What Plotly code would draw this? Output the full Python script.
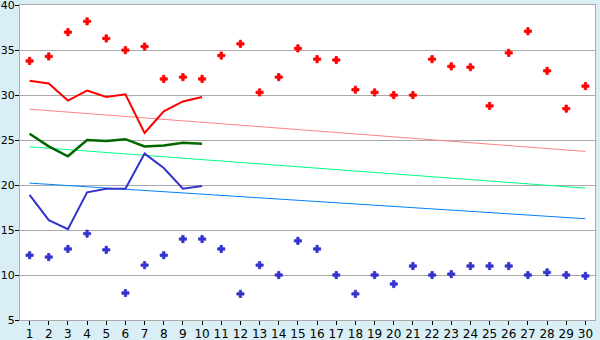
import plotly.graph_objects as go

days = list(range(1, 31))
red_dots = [33.8, 34.3, 37.0, 38.2, 36.3, 35.0, 35.4, 31.8, 32.0, 31.8,
            34.4, 35.7, 30.3, 32.0, 35.2, 34.0, 33.9, 30.6, 30.3, 30.0,
            30.0, 34.0, 33.2, 33.1, 28.8, 34.7, 37.1, 32.7, 28.5, 31.0]
blue_dots = [12.2, 12.0, 12.9, 14.6, 12.8, 8.0, 11.1, 12.2, 14.0, 14.0,
             12.9, 7.9, 11.1, 10.0, 13.8, 12.9, 10.0, 7.9, 10.0, 9.0,
             11.0, 10.0, 10.1, 11.0, 11.0, 11.0, 10.0, 10.3, 10.0, 9.9]
line_days = list(range(1, 11))
red_line = [31.6, 31.3, 29.4, 30.5, 29.8, 30.1, 25.8, 28.2, 29.3, 29.8]
green_line = [25.7, 24.3, 23.2, 25.0, 24.9, 25.1, 24.3, 24.4, 24.7, 24.6]
blue_line = [18.9, 16.1, 15.1, 19.2, 19.6, 19.6, 23.5, 21.9, 19.6, 19.9]
trend_x = [1, 30]
red_trend = [28.44, 23.74]
green_trend = [24.26, 19.66]
blue_trend = [20.22, 16.26]

fig = go.Figure()
fig.add_trace(go.Scatter(x=trend_x, y=red_trend, mode="lines", line=dict(color="#FF8080", width=1)))
fig.add_trace(go.Scatter(x=trend_x, y=green_trend, mode="lines", line=dict(color="#00FF80", width=1)))
fig.add_trace(go.Scatter(x=trend_x, y=blue_trend, mode="lines", line=dict(color="#0080FF", width=1)))
fig.add_trace(go.Scatter(x=days, y=red_dots, mode="markers",
                         marker=dict(symbol="cross", size=6, color="#FF0000",
                                     line=dict(width=0.8, color="#FF0000"))))
fig.add_trace(go.Scatter(x=days, y=blue_dots, mode="markers",
                         marker=dict(symbol="cross", size=6, color="#3333CC",
                                     line=dict(width=0.8, color="#3333CC"))))
fig.add_trace(go.Scatter(x=line_days, y=red_line, mode="lines", line=dict(color="#FF0000", width=2)))
fig.add_trace(go.Scatter(x=line_days, y=green_line, mode="lines", line=dict(color="#006600", width=2.5)))
fig.add_trace(go.Scatter(x=line_days, y=blue_line, mode="lines", line=dict(color="#3333CC", width=2)))

fig.update_layout(
    width=600, height=340,
    margin=dict(l=20, r=5, t=5, b=20),
    paper_bgcolor="#D9EFF5", plot_bgcolor="#FFFFFF",
    showlegend=False,
    font=dict(family="DejaVu Sans", size=12, color="#000000"),
)
fig.update_xaxes(range=[0.5, 30.5], tickmode="array", tickvals=days, automargin=False,
                 showgrid=False, showline=True, linecolor="#AAAAAA", linewidth=1, mirror=True,
                 ticks="outside", ticklen=4, tickcolor="#000000", zeroline=False,
                 ticklabelstandoff=-1, ticklabeloverflow="allow", tickfont=dict(size=12))
fig.update_yaxes(range=[5, 40.02], tickmode="array", tickvals=[5, 10, 15, 20, 25, 30, 35, 40],
                 automargin=False,
                 showgrid=True, gridcolor="#AAAAAA", gridwidth=1,
                 showline=True, linecolor="#AAAAAA", linewidth=1, mirror=True,
                 ticks="outside", ticklen=4, tickcolor="#000000", zeroline=False,
                 ticklabelstandoff=-2, ticklabeloverflow="allow", tickfont=dict(size=11))

fig.write_html("out.html")
